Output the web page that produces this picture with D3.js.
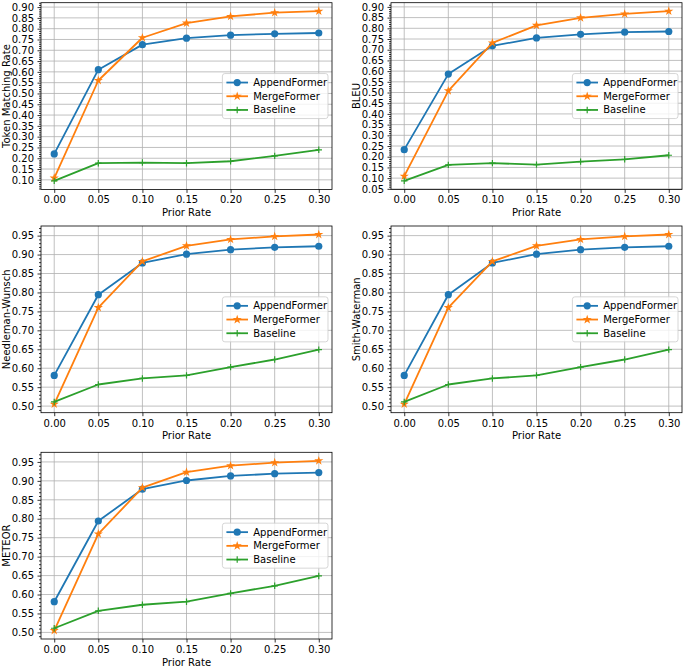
<!DOCTYPE html>
<html>
<head>
<meta charset="utf-8">
<script src="https://cdn.jsdelivr.net/npm/d3@7"></script>
<style>
  html, body { margin: 0; padding: 0; background: #ffffff; }
  svg { display: block; font-family: "DejaVu Sans", sans-serif; }
</style>
</head>
<body>
<svg id="chart" width="685" height="667"></svg>
<script>
// ---------------- data ----------------
const priorRates = [0.00, 0.05, 0.10, 0.15, 0.20, 0.25, 0.30];
const xTickLabels = ["0.00", "0.05", "0.10", "0.15", "0.20", "0.25", "0.30"];
const seriesNames = ["AppendFormer", "MergeFormer", "Baseline"];

const tokenAppend   = [0.220, 0.610, 0.726, 0.756, 0.770, 0.776, 0.780];
const tokenMerge    = [0.108, 0.560, 0.758, 0.826, 0.857, 0.874, 0.881];
const tokenBaseline = [0.095, 0.177, 0.180, 0.177, 0.186, 0.211, 0.239];

const bleuAppend   = [0.233, 0.586, 0.718, 0.755, 0.772, 0.782, 0.785];
const bleuMerge    = [0.109, 0.508, 0.732, 0.814, 0.849, 0.867, 0.880];
const bleuBaseline = [0.087, 0.162, 0.170, 0.163, 0.177, 0.188, 0.207];

const nwAppend   = [0.581, 0.794, 0.878, 0.901, 0.913, 0.919, 0.922];
const nwMerge    = [0.505, 0.760, 0.882, 0.923, 0.940, 0.948, 0.953];
const nwBaseline = [0.511, 0.557, 0.573, 0.581, 0.603, 0.623, 0.649];

const swAppend   = [0.581, 0.794, 0.878, 0.901, 0.913, 0.919, 0.922];
const swMerge    = [0.505, 0.760, 0.882, 0.923, 0.940, 0.948, 0.953];
const swBaseline = [0.511, 0.557, 0.573, 0.581, 0.603, 0.623, 0.649];

const meteorAppend   = [0.581, 0.794, 0.878, 0.901, 0.913, 0.919, 0.922];
const meteorMerge    = [0.505, 0.760, 0.882, 0.923, 0.940, 0.948, 0.953];
const meteorBaseline = [0.511, 0.557, 0.573, 0.581, 0.603, 0.623, 0.649];

const panelLabels = ["Token Matching Rate", "BLEU", "Needleman-Wunsch", "Smith-Waterman", "METEOR"];
const panelSeries = [
  [tokenAppend, tokenMerge, tokenBaseline],
  [bleuAppend, bleuMerge, bleuBaseline],
  [nwAppend, nwMerge, nwBaseline],
  [swAppend, swMerge, swBaseline],
  [meteorAppend, meteorMerge, meteorBaseline]
];

// ---------------- layout / style ----------------
const colors = ["#1f77b4", "#ff7f0e", "#2ca02c"];
const colLeft = [41, 391];
const rowTop = [2.7, 226, 452.3];
const W = 291, H = 186.7;
const fontSize = 10;

const svg = d3.select("#chart");

function drawMarker(g, kind, x, y, color) {
  if (kind === 0) {
    g.append("circle").attr("cx", x).attr("cy", y).attr("r", 3.6).attr("fill", color);
  } else if (kind === 1) {
    g.append("path").attr("d", d3.symbol(d3.symbolStar, 26)())
      .attr("transform", `translate(${x},${y})`).attr("fill", color);
  } else {
    g.append("path").attr("d", `M${x - 3.2},${y}H${x + 3.2}M${x},${y - 3.2}V${y + 3.2}`)
      .attr("stroke", color).attr("stroke-width", 1.2).attr("fill", "none");
  }
}

panelSeries.forEach((series, i) => {
  const col = i % 2, row = Math.floor(i / 2);
  const left = colLeft[col], top = rowTop[row];
  const g = svg.append("g").attr("transform", `translate(${left},${top})`);

  const x = d3.scaleLinear().domain([-0.015, 0.315]).range([0, W]);
  const all = series.flat();
  const lo = d3.min(all), hi = d3.max(all), m = (hi - lo) * 0.05;
  const y = d3.scaleLinear().domain([lo - m, hi + m]).range([H, 0]);

  const yMajor = d3.range(Math.ceil((lo - m) / 0.05 - 1e-9), Math.floor((hi + m) / 0.05 + 1e-9) + 1).map(k => +(k * 0.05).toFixed(2));
  const yMinor = d3.range(Math.ceil((lo - m) / 0.01 - 1e-9), Math.floor((hi + m) / 0.01 + 1e-9) + 1)
    .filter(k => k % 5 !== 0).map(k => +(k * 0.01).toFixed(2));

  // grid
  const grid = g.append("g").attr("stroke", "#b0b0b0").attr("stroke-width", 0.8);
  priorRates.forEach(v => grid.append("line").attr("x1", x(v)).attr("x2", x(v)).attr("y1", 0).attr("y2", H));
  yMajor.forEach(v => grid.append("line").attr("x1", 0).attr("x2", W).attr("y1", y(v)).attr("y2", y(v)));

  // series
  const clipId = "clip" + i;
  g.append("clipPath").attr("id", clipId).append("rect").attr("width", W).attr("height", H);
  const plot = g.append("g").attr("clip-path", `url(#${clipId})`);
  const line = d3.line().x((d, j) => x(priorRates[j])).y(d => y(d));
  series.forEach((vals, s) => {
    plot.append("path").datum(vals).attr("d", line).attr("fill", "none")
      .attr("stroke", colors[s]).attr("stroke-width", 1.8).attr("stroke-linejoin", "round");
    vals.forEach((v, j) => drawMarker(plot, s, x(priorRates[j]), y(v), colors[s]));
  });

  // axes
  const xAxis = g.append("g").attr("transform", `translate(0,${H})`)
    .call(d3.axisBottom(x).tickValues(priorRates).tickFormat((d, j) => xTickLabels[j]).tickSize(3.5).tickPadding(3.5));
  const yAxis = g.append("g")
    .call(d3.axisLeft(y).tickValues(yMajor).tickFormat(d3.format(".2f")).tickSize(3.5).tickPadding(3.5));
  const yMinorAxis = g.append("g")
    .call(d3.axisLeft(y).tickValues(yMinor).tickFormat("").tickSize(2));
  [xAxis, yAxis, yMinorAxis].forEach(a => {
    a.select(".domain").remove();
    a.selectAll("line").attr("stroke", "#000").attr("stroke-width", 0.8);
    a.selectAll("text").attr("font-size", fontSize).attr("font-family", "DejaVu Sans").attr("fill", "#000");
  });

  // frame
  g.append("rect").attr("width", W).attr("height", H).attr("fill", "none")
    .attr("stroke", "#000").attr("stroke-width", 0.8);

  // labels
  g.append("text").attr("x", W / 2).attr("y", H + 26.7).attr("text-anchor", "middle")
    .attr("font-size", fontSize).text("Prior Rate");
  g.append("text").attr("transform", `translate(${-35},${H / 2}) rotate(-90)`)
    .attr("text-anchor", "middle").attr("dy", "0.35em").attr("font-size", fontSize).text(panelLabels[i]);

  // legend
  const lw = 105.6, lh = 45;
  const lg = g.append("g").attr("transform", `translate(${W - 4 - lw},${H / 2 - lh / 2})`);
  lg.append("rect").attr("width", lw).attr("height", lh).attr("rx", 2.5)
    .attr("fill", "#ffffff").attr("fill-opacity", 0.8).attr("stroke", "#cccccc").attr("stroke-width", 0.8);
  seriesNames.forEach((name, s) => {
    const yy = 9 + s * 13.7;
    lg.append("line").attr("x1", 4).attr("x2", 25.6).attr("y1", yy).attr("y2", yy)
      .attr("stroke", colors[s]).attr("stroke-width", 1.8);
    drawMarker(lg, s, 14.8, yy, colors[s]);
    lg.append("text").attr("x", 30.8).attr("y", yy).attr("dy", "0.35em")
      .attr("font-size", fontSize).text(name);
  });
});
</script>
</body>
</html>
